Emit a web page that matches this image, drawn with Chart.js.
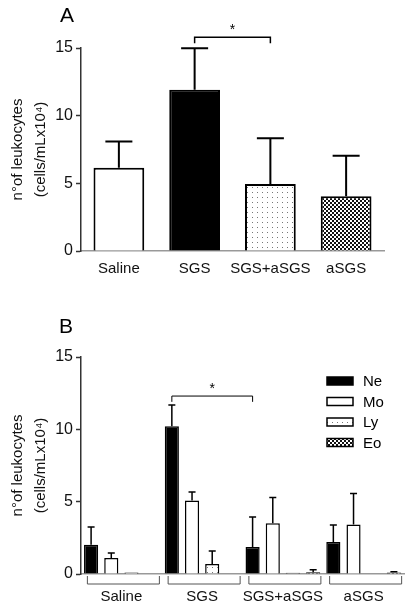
<!DOCTYPE html>
<html>
<head>
<meta charset="utf-8">
<script src="https://cdn.jsdelivr.net/npm/chart.js@4"></script>
<style>
  html, body { margin: 0; padding: 0; background: #fff; }
  #wrap { position: relative; width: 410px; height: 604px; }
  #chartA { position: absolute; left: 0; top: 0; }
  #chartB { position: absolute; left: 0; top: 300px; }
</style>
</head>
<body>
<div id="wrap">
  <canvas id="chartA" width="410" height="300"></canvas>
  <canvas id="chartB" width="410" height="304"></canvas>
</div>
<script>
// data
const groups = ['Saline', 'SGS', 'SGS+aSGS', 'aSGS'];
const yTicks = [0, 5, 10, 15];

// panel A: total leukocytes, mean and upper SEM
const totalMean = [6.16, 11.92, 4.95, 4.04];
const totalSem  = [1.93, 3.07, 3.39, 2.99];

// panel B: differential counts
const cellTypes = ['Ne', 'Mo', 'Ly', 'Eo'];
const neMean = [2.03, 10.22, 1.87, 2.21];
const neSem  = [1.22, 1.46, 2.07, 1.18];
const moMean = [1.11, 5.08, 3.51, 3.42];
const moSem  = [0.34, 0.59, 1.78, 2.14];
const lyMean = [0.10, 0.69, 0.08, 0];
const lySem  = [0, 0.90, 0, 0];
const eoMean = [0, 0, 0.12, 0.10];
const eoSem  = [0, 0, 0.18, 0.06];

const FONT = "'Liberation Sans', Arial, sans-serif";
Chart.defaults.font.family = FONT;
Chart.defaults.color = '#111';

// fill patterns (dots / checker) like the GraphPad hatching
function dotPattern() {
  const c = document.createElement('canvas');
  c.width = 5; c.height = 5;
  const g = c.getContext('2d');
  g.fillStyle = '#fff'; g.fillRect(0, 0, 5, 5);
  g.fillStyle = '#777'; g.fillRect(2, 2, 1, 1);
  return g.createPattern(c, 'repeat');
}
function checkPattern() {
  const c = document.createElement('canvas');
  c.width = 4; c.height = 4;
  const g = c.getContext('2d');
  g.fillStyle = '#fff'; g.fillRect(0, 0, 4, 4);
  g.fillStyle = '#111';
  g.fillRect(0, 0, 2, 2); g.fillRect(2, 2, 2, 2);
  return g.createPattern(c, 'repeat');
}
const DOTS = dotPattern();
const CHECK = checkPattern();

// upper-only error bars
const errorBars = {
  id: 'errorBars',
  afterDatasetsDraw(chart, args, opts) {
    const { ctx, scales: { y } } = chart;
    ctx.save();
    ctx.strokeStyle = '#000';
    ctx.lineWidth = opts.width || 1.5;
    chart.data.datasets.forEach((ds, i) => {
      if (!ds.errors) return;
      chart.getDatasetMeta(i).data.forEach((bar, j) => {
        const e = ds.errors[j];
        if (!e) return;
        const top = y.getPixelForValue(ds.data[j] + e);
        const cap = opts.cap || 4;
        ctx.beginPath();
        ctx.moveTo(bar.x, bar.y);
        ctx.lineTo(bar.x, top);
        ctx.moveTo(bar.x - cap, top);
        ctx.lineTo(bar.x + cap, top);
        ctx.stroke();
      });
    });
    ctx.restore();
  }
};

// significance bracket + panel letter
const annot = {
  id: 'annot',
  afterDraw(chart, args, o) {
    const { ctx, scales: { y } } = chart;
    ctx.save();
    ctx.fillStyle = '#000';
    ctx.font = '21px ' + FONT;
    ctx.textBaseline = 'top';
    ctx.fillText(o.letter, o.letterX, o.letterY);

    const b = o.bracket;
    const m0 = chart.getDatasetMeta(b.ds).data[b.from];
    const m1 = chart.getDatasetMeta(b.ds).data[b.to];
    const yTop = y.getPixelForValue(b.y), yEnd = y.getPixelForValue(b.y - b.drop);
    ctx.strokeStyle = '#000';
    ctx.lineWidth = o.lw;
    ctx.beginPath();
    ctx.moveTo(m0.x, yEnd); ctx.lineTo(m0.x, yTop);
    ctx.lineTo(m1.x, yTop); ctx.lineTo(m1.x, yEnd);
    ctx.stroke();
    ctx.font = '14px ' + FONT;
    ctx.textAlign = 'center';
    ctx.textBaseline = 'middle';
    ctx.fillText('*', (m0.x + m1.x) / 2, yTop - 7);
    ctx.restore();
  }
};

// group brackets under the x axis and the inset legend (panel B)
const groupsAndLegend = {
  id: 'groupsAndLegend',
  afterDraw(chart) {
    const { ctx, chartArea, scales: { x } } = chart;
    ctx.save();
    ctx.strokeStyle = '#555';
    ctx.lineWidth = 1;
    groups.forEach((g, i) => {
      const cx = x.getPixelForValue(i);
      const yb = chartArea.bottom + 10;
      ctx.beginPath();
      ctx.moveTo(cx - 34, chartArea.bottom + 2); ctx.lineTo(cx - 34, yb);
      ctx.lineTo(cx + 38, yb); ctx.lineTo(cx + 38, chartArea.bottom + 2);
      ctx.stroke();
    });
    ctx.font = '15px ' + FONT;
    ctx.textBaseline = 'middle';
    chart.data.datasets.forEach((ds, i) => {
      const yy = 81 + i * 20.5;
      ctx.fillStyle = ds.backgroundColor;
      ctx.fillRect(327, yy - 4, 26, 8);
      ctx.strokeStyle = '#000';
      ctx.lineWidth = 1.5;
      ctx.strokeRect(327, yy - 4, 26, 8);
      ctx.fillStyle = '#000';
      ctx.fillText(ds.label, 363, yy + 1);
    });
    ctx.restore();
  }
};

function yScale(width) {
  return {
    min: 0, max: 15,
    afterFit: s => { s.width = width; },
    afterBuildTicks: s => { s.ticks = yTicks.map(v => ({ value: v })); },
    border: { color: '#333', width: 1.5 },
    grid: { drawOnChartArea: false, drawTicks: true, tickLength: 5, tickColor: '#333', tickWidth: 1.5 },
    ticks: { padding: 3, font: { size: 16 }, color: '#111' },
    title: {
      display: true,
      text: ['n\u00b0of leukocytes', '(cells/mLx10\u2074)'],
      font: { size: 15, lineHeight: 1.55 },
      padding: { top: 6 },
      color: '#111'
    }
  };
}

function xScale(height, pad) {
  return {
    afterFit: s => { s.height = height; },
    border: { color: '#999', width: 1.5 },
    grid: { display: false, drawTicks: false },
    ticks: { padding: pad, font: { size: 15 }, color: '#111', autoSkip: false, maxRotation: 0, minRotation: 0 }
  };
}

new Chart(document.getElementById('chartA'), {
  type: 'bar',
  data: {
    labels: groups,
    datasets: [{
      data: totalMean,
      errors: totalSem,
      backgroundColor: ['#fff', '#000', DOTS, CHECK],
      borderColor: '#000',
      borderWidth: 2,
      categoryPercentage: 1,
      barPercentage: 0.67
    }]
  },
  options: {
    responsive: false,
    animation: false,
    layout: { padding: { top: 48, right: 26 } },
    plugins: {
      legend: { display: false },
      tooltip: { enabled: false },
      errorBars: { width: 2, cap: 13.5 },
      annot: {
        letter: 'A', letterX: 60, letterY: 6, lw: 1.5,
        bracket: { ds: 0, from: 1, to: 2, y: 15.8, drop: 0.45 }
      }
    },
    scales: { x: xScale(49, 9), y: yScale(81) }
  },
  plugins: [errorBars, annot]
});

new Chart(document.getElementById('chartB'), {
  type: 'bar',
  data: {
    labels: groups,
    datasets: [
      { label: cellTypes[0], data: neMean, errors: neSem, backgroundColor: '#000' },
      { label: cellTypes[1], data: moMean, errors: moSem, backgroundColor: '#fff' },
      { label: cellTypes[2], data: lyMean, errors: lySem, backgroundColor: DOTS },
      { label: cellTypes[3], data: eoMean, errors: eoSem, backgroundColor: CHECK }
    ].map(d => Object.assign(d, {
      borderColor: '#000', borderWidth: 1.5, categoryPercentage: 1, barPercentage: 0.7
    }))
  },
  options: {
    responsive: false,
    animation: false,
    layout: { padding: { top: 57, right: 6 } },
    plugins: {
      legend: { display: false },
      tooltip: { enabled: false },
      errorBars: { width: 1.5, cap: 3.5 },
      annot: {
        letter: 'B', letterX: 59, letterY: 17, lw: 1,
        bracket: { ds: 0, from: 1, to: 2, y: 12.3, drop: 0.4 }
      }
    },
    scales: { x: xScale(30, 14), y: yScale(81) }
  },
  plugins: [errorBars, annot, groupsAndLegend]
});
</script>
</body>
</html>
